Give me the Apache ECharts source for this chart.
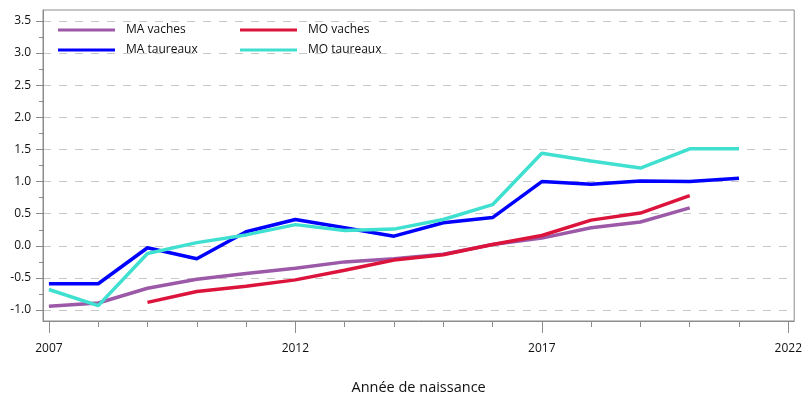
<!DOCTYPE html>
<html>
<head>
<meta charset="utf-8">
<script src="https://cdn.jsdelivr.net/npm/echarts@6/dist/echarts.min.js"></script>
<style>
  html, body { margin: 0; padding: 0; background: #fff; }
  #chart { width: 805px; height: 400px; }
</style>
</head>
<body>
<div id="chart"></div>
<script>
// années de naissance
var years = [2007, 2008, 2009, 2010, 2011, 2012, 2013, 2014, 2015, 2016, 2017, 2018, 2019, 2020, 2021];
var maVaches    = [-0.94, -0.89, -0.66, -0.52, -0.43, -0.35, -0.25, -0.20, -0.13, 0.02, 0.12, 0.28, 0.37, 0.59, null];
var moVaches    = [null, null, -0.88, -0.71, -0.63, -0.53, -0.38, -0.22, -0.14, 0.02, 0.16, 0.40, 0.51, 0.78, null];
var maTaureaux  = [-0.59, -0.59, -0.03, -0.20, 0.22, 0.41, 0.28, 0.15, 0.36, 0.44, 1.00, 0.96, 1.01, 1.00, 1.05];
var moTaureaux  = [-0.68, -0.93, -0.12, 0.05, 0.17, 0.33, 0.24, 0.26, 0.41, 0.64, 1.44, 1.32, 1.21, 1.51, 1.51];

var xTicks = [2007, 2008, 2009, 2010, 2011, 2012, 2013, 2014, 2015, 2016, 2017, 2018, 2019, 2020, 2021, 2022];
var xLabels = [2007, 2012, 2017, 2022];
var yLabels = [-1.0, -0.5, 0.0, 0.5, 1.0, 1.5, 2.0, 2.5, 3.0, 3.5];
var yMinor = [-0.75, -0.25, 0.25, 0.75, 1.25, 1.75, 2.25, 2.75, 3.25];

function pairs(vals) {
  var out = [];
  for (var i = 0; i < years.length; i++) {
    if (vals[i] != null) out.push([years[i], vals[i]]);
  }
  return out;
}

var font = 'Open Sans';
var gray = '#8c8c8c';
var chart = echarts.init(document.getElementById('chart'));

function line(name, vals, color) {
  return {
    name: name,
    type: 'line',
    data: pairs(vals),
    showSymbol: false,
    symbol: 'none',
    color: color,
    lineStyle: { width: 3.5, color: color },
    animation: false
  };
}

chart.setOption({
  animation: false,
  textStyle: { fontFamily: font },
  grid: {
    left: 43, right: 10, top: 10, bottom: 77,
    show: true, borderColor: gray, borderWidth: 1, backgroundColor: 'transparent'
  },
  legend: [{
    orient: 'vertical', left: 58, top: 24, padding: 0, itemGap: 8,
    icon: 'rect', itemWidth: 57, itemHeight: 3,
    textStyle: { fontFamily: font, fontSize: 12, color: '#111', padding: [0, 0, 0, 6] },
    data: ['MA vaches', 'MA taureaux']
  }, {
    orient: 'vertical', left: 240, top: 24, padding: 0, itemGap: 8,
    icon: 'rect', itemWidth: 57, itemHeight: 3,
    textStyle: { fontFamily: font, fontSize: 12, color: '#111', padding: [0, 0, 0, 6] },
    data: ['MO vaches', 'MO taureaux']
  }],
  xAxis: [{
    type: 'value', min: 2006.88, max: 2022.12, position: 'bottom',
    name: 'Année de naissance', nameLocation: 'middle', nameGap: 59,
    nameTextStyle: { fontFamily: font, fontSize: 14.5, color: '#111' },
    axisLine: { show: true, onZero: false, lineStyle: { color: gray } },
    axisTick: { show: true, length: 6, customValues: xTicks, lineStyle: { color: gray } },
    axisLabel: { customValues: xLabels, margin: 22, fontSize: 12, color: '#111', fontFamily: font,
      formatter: function (v) { return String(v); } },
    splitLine: { show: false }
  }, {
    type: 'value', min: 2006.88, max: 2022.12, position: 'bottom',
    axisLine: { show: false, onZero: false },
    axisTick: { show: true, length: 12, customValues: xLabels, lineStyle: { color: gray } },
    axisLabel: { show: false },
    splitLine: { show: false }
  }],
  yAxis: [{
    type: 'value', min: -1.17, max: 3.67, splitNumber: 10, position: 'left',
    axisLine: { show: true, onZero: false, lineStyle: { color: gray } },
    axisTick: { show: true, length: 7, customValues: yLabels, lineStyle: { color: gray } },
    axisLabel: { customValues: yLabels, margin: 12, fontSize: 12, color: '#111', fontFamily: font,
      formatter: function (v) { return v.toFixed(1); } },
    splitLine: { show: true, lineStyle: { color: '#c8c8c8', type: [8, 8], width: 1 } }
  }, {
    type: 'value', min: -1.17, max: 3.67, position: 'left',
    axisLine: { show: false, onZero: false },
    axisTick: { show: true, length: 4, customValues: yMinor, lineStyle: { color: gray } },
    axisLabel: { show: false },
    splitLine: { show: false }
  }],
  series: [
    line('MA vaches', maVaches, '#9b59a8'),
    line('MO vaches', moVaches, '#dc143c'),
    line('MA taureaux', maTaureaux, '#0000ff'),
    line('MO taureaux', moTaureaux, '#40e0d0')
  ]
});
</script>
</body>
</html>
